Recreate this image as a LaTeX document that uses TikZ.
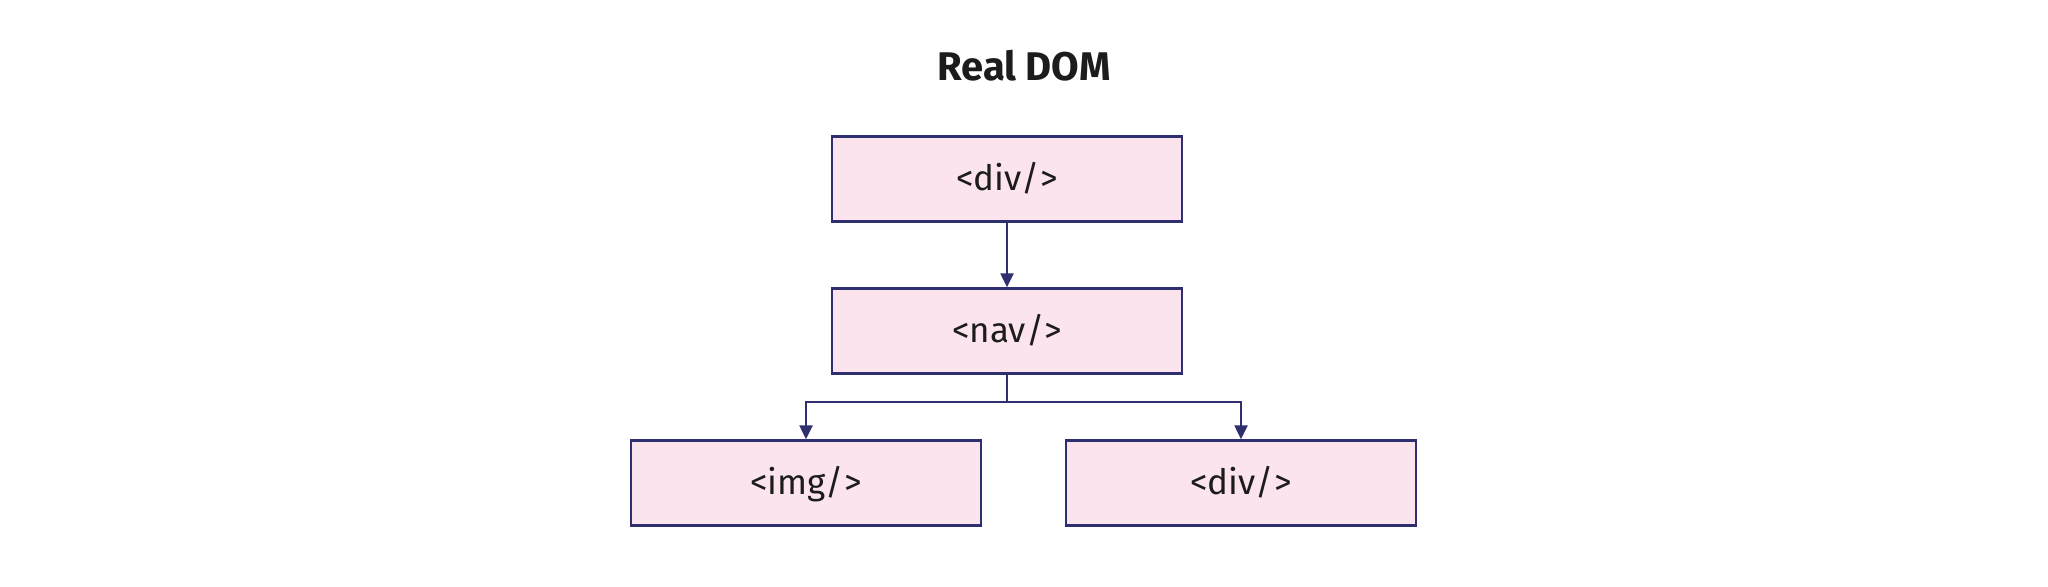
\documentclass[tikz,border=0pt]{standalone}
\usepackage{fontspec}
\setmainfont{Fira Sans}
\usetikzlibrary{arrows.meta}
\definecolor{boxfill}{HTML}{FCE4EF}
\definecolor{boxline}{HTML}{2E2F6E}
\definecolor{txt}{HTML}{1C1C1C}
\begin{document}
\begin{tikzpicture}[x=0.5pt,y=-0.5pt,
  domnode/.style={draw=boxline, fill=boxfill, line width=1.2pt, minimum width=175pt, minimum height=42.5pt, inner sep=0pt, text height=13.5pt, text depth=2pt, font=\fontsize{17.5}{20}\selectfont, text=txt},
  conn/.style={draw=boxline, line width=1.2pt, -{Triangle[length=7pt,width=6.5pt]}}]
\useasboundingbox (0,0) rectangle (2048,587);
\node[font=\bfseries\fontsize{20}{24}\selectfont, text=txt] (title) at (1024,66) {Real DOM};
\node[domnode] (div1) at (1007,179) {<div/>};
\node[domnode] (nav) at (1007,331) {<nav/>};
\node[domnode] (img) at (806,483) {<img/>};
\node[domnode] (div2) at (1241,483) {<div/>};
\coordinate (split) at (1007,402);
\draw[conn] (div1) -- (nav);
\draw[conn] (nav.south) -- (split) -| (img.north);
\draw[conn] (split) -| (div2.north);
\end{tikzpicture}
\end{document}
